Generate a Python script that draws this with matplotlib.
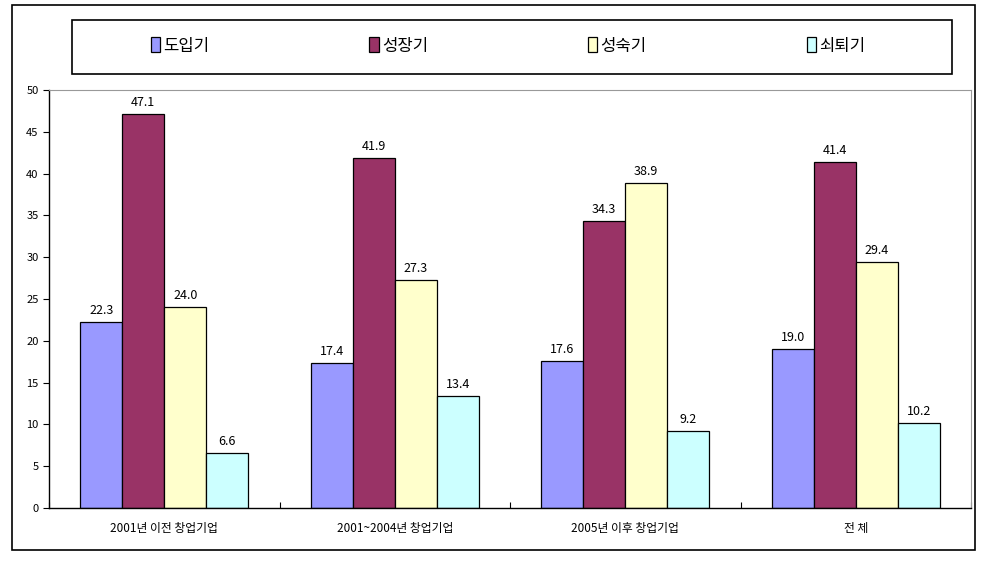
import numpy as np
import matplotlib
matplotlib.use("Agg")
import matplotlib.pyplot as plt
from matplotlib.patches import Rectangle

plt.rcParams["font.family"] = ["Noto Sans CJK KR", "DejaVu Sans"]

categories = ["2001년 이전 창업기업", "2001~2004년 창업기업", "2005년 이후 창업기업", "전 체"]
series_names = ["도입기", "성장기", "성숙기", "쇠퇴기"]
intro = [22.3, 17.4, 17.6, 19.0]
growth = [47.1, 41.9, 34.3, 41.4]
mature = [24.0, 27.3, 38.9, 29.4]
decline = [6.6, 13.4, 9.2, 10.2]
colors = ["#9999FF", "#993366", "#FFFFCC", "#CCFFFF"]

W, H = 983, 566
fig = plt.figure(figsize=(W / 100, H / 100), dpi=100)

# plot area in pixels
left, right, top, bottom = 49, 971, 90, 508
ax = fig.add_axes([left / W, 1 - bottom / H, (right - left) / W, (bottom - top) / H])

x = np.arange(len(categories))
bw = 0.182
vals = [intro, growth, mature, decline]
for i, (name, v, c) in enumerate(zip(series_names, vals, colors)):
    pos = x + (i - 1.5) * bw
    ax.bar(pos, v, bw, color=c, edgecolor="black", linewidth=0.9, label=name)
    for px, pv in zip(pos, v):
        ax.text(px, pv + 0.6, f"{pv:.1f}", ha="center", va="bottom", fontsize=9)

ax.set_xlim(-0.5, 3.5)
ax.set_ylim(0, 50)
ax.set_yticks(range(0, 51, 5))
ax.set_xticks(x)
ax.set_xticklabels(categories, fontsize=8.5)
ax.set_xticks(np.arange(-0.5, 4.0, 1.0), minor=True)
ax.tick_params(axis="x", which="major", length=0, pad=10)
ax.tick_params(axis="x", which="minor", length=4, direction="in", width=0.8)
ax.tick_params(axis="y", length=4, direction="out", width=0.8, labelsize=8)
for s in ["top", "right"]:
    ax.spines[s].set_color("#999999")
    ax.spines[s].set_linewidth(0.8)
for s in ["left", "bottom"]:
    ax.spines[s].set_linewidth(1.0)

# outer frame and legend box
fig.patches.append(Rectangle((12 / W, 1 - 550 / H), (975 - 12) / W, (550 - 5) / H,
                             transform=fig.transFigure, fill=False, edgecolor="black", linewidth=1.2))
fig.patches.append(Rectangle((72 / W, 1 - 74 / H), (952 - 72) / W, (74 - 20) / H,
                             transform=fig.transFigure, fill=False, edgecolor="black", linewidth=1.2))

fig.legend(loc="center", bbox_to_anchor=(508 / W, 1 - 46 / H), ncol=4, frameon=False,
           fontsize=12, handlelength=0.55, handleheight=1.0, handletextpad=0.2,
           columnspacing=9.6)

fig.savefig("out.png", dpi=100)
